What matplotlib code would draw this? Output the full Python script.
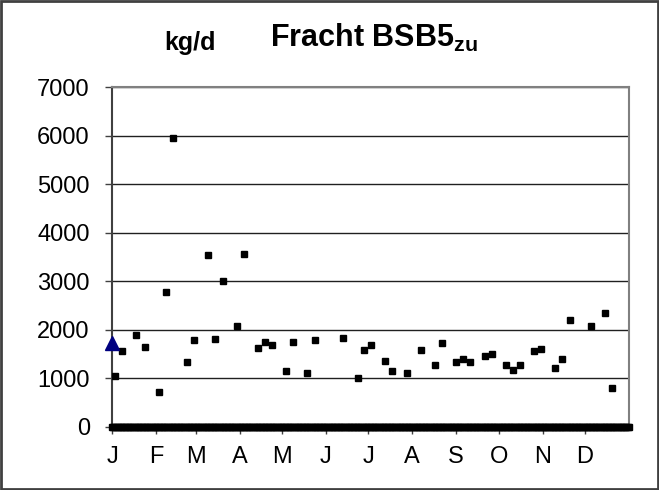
import numpy as np
import matplotlib
matplotlib.use('Agg')
from matplotlib import pyplot as plt
from matplotlib.patches import Rectangle

plt.rcParams['font.family'] = ['Liberation Sans', 'DejaVu Sans']
plt.rcParams['mathtext.fontset'] = 'custom'
plt.rcParams['mathtext.bf'] = 'Liberation Sans:bold'

# day of year / daily load in kg/d
days = [2, 7, 17, 23, 33, 38, 43, 53, 58, 68, 73, 78, 88, 93, 103, 108, 113,
        123, 128, 138, 143, 163, 174, 178, 183, 193, 198, 208, 218, 228, 233,
        243, 248, 253, 263, 268, 278, 283, 288, 298, 303, 313, 318, 323, 338,
        348, 353]
loads = [1050, 1570, 1890, 1650, 730, 2770, 5960, 1330, 1790, 3550, 1820,
         3000, 2070, 3570, 1630, 1760, 1690, 1160, 1740, 1120, 1790, 1830,
         1000, 1580, 1690, 1365, 1160, 1110, 1585, 1275, 1730, 1330, 1405,
         1345, 1455, 1510, 1285, 1175, 1270, 1565, 1615, 1215, 1405, 2210,
         2085, 2355, 795]

# days without measurement are plotted as zero
zero_days = np.arange(0, 366)
zero_loads = np.zeros(len(zero_days))

# single reference value at the start of the year
ref_day = [0]
ref_load = [1730]

month_starts = [0, 31, 59, 90, 120, 151, 181, 212, 243, 273, 304, 334]
month_labels = ['J', 'F', 'M', 'A', 'M', 'J', 'J', 'A', 'S', 'O', 'N', 'D']
y_ticks = [0, 1000, 2000, 3000, 4000, 5000, 6000, 7000]

fig = plt.figure(figsize=(6.59, 4.9), dpi=100)
ax = fig.add_axes([0.170, 0.1286, 0.7845, 0.6938])

ax.set_xlim(0, 365)
ax.set_ylim(0, 7000)
ax.set_yticks(y_ticks)
ax.set_xticks(month_starts)
ax.set_xticklabels(month_labels)
ax.yaxis.grid(True, color='#202020', linewidth=1)
ax.set_axisbelow(True)

for s in ('left', 'bottom'):
    ax.spines[s].set_color('#404040')
    ax.spines[s].set_linewidth(1.5)
for s in ('top', 'right'):
    ax.spines[s].set_color('#808080')
    ax.spines[s].set_linewidth(1.5)

ax.tick_params(axis='both', direction='out', length=5, width=1,
               color='#404040', labelsize=17)
ax.tick_params(axis='y', pad=11)
ax.tick_params(axis='x', pad=9)

ax.plot(zero_days, zero_loads, 's', color='black', markersize=5,
        linestyle='none', clip_on=False, zorder=3)
ax.plot(days, loads, 's', color='black', markersize=5, linestyle='none',
        zorder=4)
ax.plot(ref_day, ref_load, '^', color='#000080', markersize=10,
        linestyle='none', clip_on=False, zorder=5)

fig.text(0.288, 0.913, 'kg/d', fontsize=18, fontweight='bold',
         ha='center', va='center')
fig.text(0.409, 0.922, r'Fracht BSB5$_{\mathbf{zu}}$', fontsize=22,
         fontweight='bold', ha='left', va='center')

fig.patches.append(Rectangle((0.002, 0.002), 0.996, 0.996,
                             transform=fig.transFigure, fill=False,
                             edgecolor='#404040', linewidth=2))

fig.savefig('out.png', dpi=100)
